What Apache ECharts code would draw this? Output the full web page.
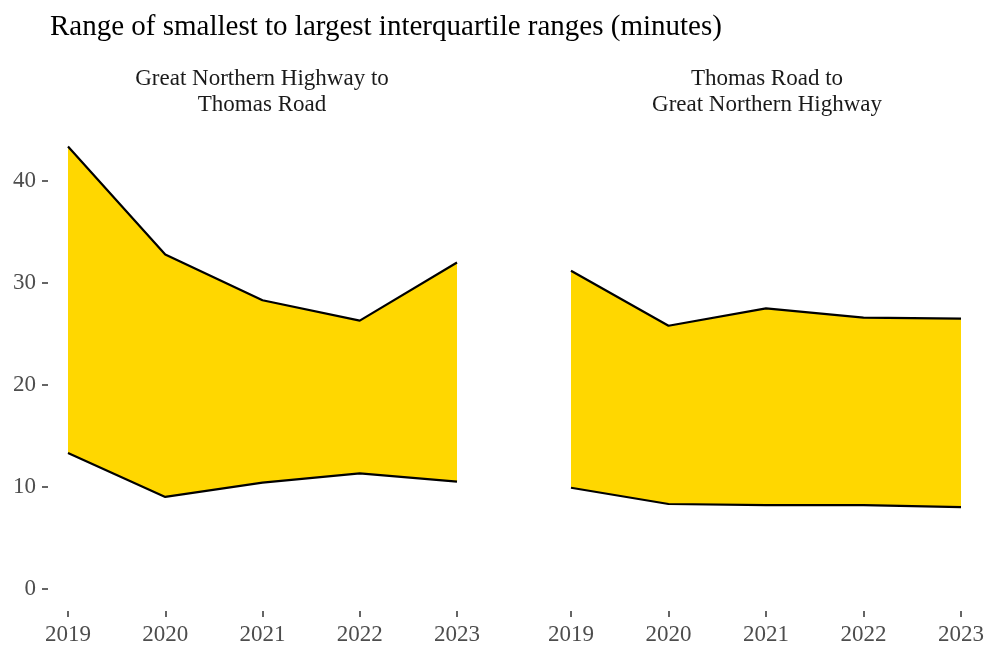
<!DOCTYPE html>
<html><head><meta charset="utf-8">
<script src="https://cdn.jsdelivr.net/npm/echarts@6/dist/echarts.min.js"></script>
<style>html,body{margin:0;padding:0;background:#fff}#c{width:991px;height:653px}</style>
</head><body><div id="c"></div>
<script>
const years = ['2019','2020','2021','2022','2023'];
const gnhToThomasUpper = [43.4, 32.8, 28.3, 26.3, 32.0];
const gnhToThomasLower = [13.3, 9.0, 10.4, 11.3, 10.5];
const thomasToGnhUpper = [31.2, 25.8, 27.5, 26.6, 26.5];
const thomasToGnhLower = [9.9, 8.3, 8.2, 8.2, 8.0];
const yTicks = [0, 10, 20, 30, 40];
const panelTitles = ['Great Northern Highway to\nThomas Road', 'Thomas Road to\nGreat Northern Highway'];
const mainTitle = 'Range of smallest to largest interquartile ranges (minutes)';

const FONT = 'Liberation Serif';
const FILL = '#FFD700';
const yMin = -2.2, yMax = 45.5;

function bandSeries(idx, lower, upper) {
  const diff = upper.map((u, i) => +(u - lower[i]).toFixed(3));
  return [
    { type: 'line', xAxisIndex: idx, yAxisIndex: idx, stack: 's' + idx, data: lower,
      symbol: 'none', z: 4, lineStyle: { color: '#000', width: 2.2 } },
    { type: 'line', xAxisIndex: idx, yAxisIndex: idx, stack: 's' + idx, data: diff,
      symbol: 'none', z: 3, lineStyle: { color: '#000', width: 2.2 },
      areaStyle: { color: FILL, opacity: 1 } }
  ];
}
function xAxis(idx) {
  return { type: 'category', gridIndex: idx, data: years, boundaryGap: false,
    axisLine: { show: false, onZero: false }, splitLine: { show: false },
    axisTick: { show: true, length: 6, lineStyle: { color: '#333', width: 1.5 }, alignWithLabel: true },
    axisLabel: { color: '#4d4d4d', fontFamily: FONT, fontSize: 23, margin: 12 } };
}
function yAxis(idx) {
  return { type: 'value', gridIndex: idx, min: yMin, max: yMax, offset: 20,
    axisLine: { show: false }, splitLine: { show: false },
    axisTick: { show: idx === 0, length: 6, customValues: yTicks, lineStyle: { color: '#333', width: 1.5 } },
    axisLabel: { show: idx === 0, customValues: yTicks, color: '#4d4d4d', fontFamily: FONT, fontSize: 23, margin: 12 } };
}
const chart = echarts.init(document.getElementById('c'), null, { renderer: 'canvas' });
chart.setOption({
  animation: false,
  backgroundColor: '#fff',
  title: { text: mainTitle, left: 45, top: 8, textStyle: { fontFamily: FONT, fontSize: 29, fontWeight: 'normal', color: '#000' } },
  grid: [
    { left: 68, right: 991 - 457, top: 125, bottom: 42 },
    { left: 571, right: 991 - 961, top: 125, bottom: 42 }
  ],
  xAxis: [xAxis(0), xAxis(1)],
  yAxis: [yAxis(0), yAxis(1)],
  graphic: [
    { type: 'text', x: 262, y: 66, style: { text: panelTitles[0], textAlign: 'center', fontFamily: FONT, fontSize: 23, lineHeight: 26, fill: '#1a1a1a' } },
    { type: 'text', x: 767, y: 66, style: { text: panelTitles[1], textAlign: 'center', fontFamily: FONT, fontSize: 23, lineHeight: 26, fill: '#1a1a1a' } }
  ],
  series: [...bandSeries(0, gnhToThomasLower, gnhToThomasUpper), ...bandSeries(1, thomasToGnhLower, thomasToGnhUpper)]
});
</script></body></html>
